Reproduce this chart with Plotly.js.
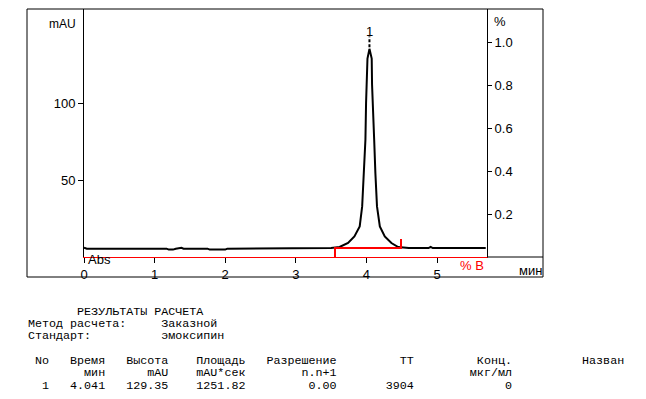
<!DOCTYPE html>
<html>
<head>
<meta charset="utf-8">
<script src="https://cdn.plot.ly/plotly-3.0.1.min.js"></script>
<style>html,body{margin:0;padding:0;background:#fff;}#chart{width:646px;height:399px;}</style>
</head>
<body>
<div id="chart"></div>
<script>
// ---- chromatogram data (min, mAU) ----
const time = [0, 0.04, 0.5, 1.0, 1.17, 1.2, 1.26, 1.3, 1.38, 1.41, 1.45, 1.75, 1.78, 2.0, 2.03, 2.4, 2.43, 3.0, 3.5,
  3.62, 3.74, 3.83, 3.905, 3.94, 3.966, 3.986, 3.995, 4.008, 4.015, 4.043, 4.075, 4.08, 4.094, 4.11, 4.127, 4.15, 4.19, 4.26, 4.354, 4.45,
  4.6, 4.88, 4.91, 4.94, 5.3, 5.69];
const signal = [6.1, 5.4, 5.4, 5.4, 5.4, 4.8, 4.8, 5.4, 6.0, 5.4, 5.4, 5.4, 4.8, 4.8, 5.4, 5.4, 5.8, 5.8, 5.8,
  6.5, 9.1, 13.4, 19.9, 32.9, 54.5, 76.2, 100, 115, 129, 135.3, 129, 112, 88, 76.2, 54.5, 32.9, 19.9, 13.4, 9.1, 6.5,
  5.8, 5.8, 6.6, 5.8, 5.8, 5.8];

// integration baseline marker
const integX = [3.555, 3.555, 4.49, 4.49];
const integY = [0, 5.8, 5.8, 11.7];

// axis ticks
const xTicks = [0, 1, 2, 3, 4, 5];
const yTicks = [50, 100];
const y2Ticks = [0.2, 0.4, 0.6, 0.8, 1.0];
const y2TickText = ["0.2", "0.4", "0.6", "0.8", "1.0"];

// results table
const peakNo = ["1"];
const retTime = ["4.041"];
const peakHeight = ["129.35"];
const peakArea = ["1251.82"];
const resolution = ["0.00"];
const theorPlates = ["3904"];
const concentration = ["0"];
const headers = ["No", "Время", "Высота", "Площадь", "Разрешение", "TT", "Конц.", "Назван"];
const units = ["", "мин", "mAU", "mAU*сек", "n.n+1", "", "мкг/мл"];
const colWidths = [3, 8, 9, 11, 13, 11, 14, 16];
const titleLines = ["       РЕЗУЛЬТАТЫ РАСЧЕТА", "Метод расчета:     Заказной", "Стандарт:          эмоксипин"];

function row(cells) {
  return cells.map((c, i) => String(c).padStart(colWidths[i])).join("").replace(/ /g, "\u00A0");
}

// pixel -> paper helpers (plot area 84..487 x, 9..257 y)
const L = 84, T = 9, W = 403, H = 248;
const px = x => (x - L) / W;
const py = y => (T + H - y) / H;

// peak apex from data
let iMax = 0;
signal.forEach((v, i) => { if (v > signal[iMax]) iMax = i; });
const apexT = time[iMax], apexV = signal[iMax];

const sansFont = {family: "Liberation Sans, Arial, sans-serif", size: 13, color: "#000"};
const monoFont = {family: "Liberation Mono, Courier New, monospace", size: 11.7, color: "#000"};

const traces = [
  {x: time, y: signal, type: "scatter", mode: "lines", line: {color: "#000", width: 2}, hoverinfo: "skip", showlegend: false},
  {x: integX, y: integY, type: "scatter", mode: "lines", line: {color: "#ff0000", width: 2}, hoverinfo: "skip", showlegend: false},
  {x: [], y: [], type: "scatter", mode: "lines", yaxis: "y2", showlegend: false}
];

const annotations = [
  {xref: "paper", yref: "paper", x: px(78), y: py(23.5), xanchor: "right", yanchor: "middle", text: "mAU", showarrow: false, font: {...sansFont, size: 12}},
  {xref: "paper", yref: "paper", x: px(492), y: py(21.7), xanchor: "left", yanchor: "middle", text: "%", showarrow: false, font: sansFont},
  {xref: "paper", yref: "paper", x: px(544), y: py(270.5), xanchor: "right", yanchor: "middle", text: "мин", showarrow: false, font: sansFont},
  {xref: "paper", yref: "paper", x: px(458), y: py(265), xanchor: "left", yanchor: "middle", text: "% B", showarrow: false, font: {...sansFont, color: "#ff0000"}},
  {xref: "paper", yref: "paper", x: px(86), y: py(259), xanchor: "left", yanchor: "middle", text: "Abs", showarrow: false, font: sansFont},
  {xref: "x", yref: "y", x: apexT, y: apexV + 11.5, xanchor: "center", yanchor: "middle", text: "1", showarrow: false, font: sansFont}
];

const tableY = [311.5, 324, 336];
titleLines.forEach((t, i) => annotations.push({xref: "paper", yref: "paper", x: px(26), y: py(tableY[i]), xanchor: "left", yanchor: "middle",
  text: t.replace(/ /g, "\u00A0"), showarrow: false, font: monoFont}));
const rows = [row(headers), row(units)];
peakNo.forEach((n, i) => rows.push(row([n, retTime[i], peakHeight[i], peakArea[i], resolution[i], theorPlates[i], concentration[i]])));
const rowY = [361, 373, 386];
rows.forEach((r, i) => annotations.push({xref: "paper", yref: "paper", x: px(26), y: py(rowY[i]), xanchor: "left", yanchor: "middle",
  text: r, showarrow: false, font: monoFont}));

const shapes = [
  {type: "rect", xref: "paper", yref: "paper", x0: px(27), x1: px(543), y0: py(277), y1: py(9), line: {color: "#000", width: 1}},
  {type: "line", xref: "paper", yref: "paper", x0: 1, x1: px(543), y0: 0, y1: 0, line: {color: "#000", width: 1}},
  {type: "line", xref: "x", yref: "y", x0: apexT, x1: apexT, y0: apexV + 1, y1: apexV + 8, line: {color: "#000", width: 2, dash: "3px,2px"}}
];

const layout = {
  width: 646, height: 399,
  margin: {l: L, r: 646 - L - W, t: T, b: 399 - T - H, pad: 0},
  paper_bgcolor: "#fff", plot_bgcolor: "#fff",
  showlegend: false,
  font: sansFont,
  xaxis: {range: [0, 5.708], tickvals: xTicks, ticktext: xTicks.map(String), showgrid: false, zeroline: false,
    showline: true, linecolor: "#ff0000", linewidth: 1, ticks: "outside", ticklen: 5, tickcolor: "#000", tickwidth: 1,
    tickfont: sansFont, fixedrange: true},
  yaxis: {range: [0, 161.2], tickvals: yTicks, ticktext: yTicks.map(String), showgrid: false, zeroline: false,
    showline: true, linecolor: "#000", linewidth: 1, ticks: "outside", ticklen: 5, tickcolor: "#000",
    tickfont: sansFont, fixedrange: true},
  yaxis2: {range: [0, 1.1535], overlaying: "y", side: "right", anchor: "x", tickvals: y2Ticks, ticktext: y2TickText,
    showgrid: false, zeroline: false, showline: true, linecolor: "#000", linewidth: 1, ticks: "outside", ticklen: 4,
    tickcolor: "#000", tickfont: sansFont, fixedrange: true},
  annotations: annotations,
  shapes: shapes
};

Plotly.newPlot("chart", traces, layout, {staticPlot: true, displayModeBar: false});
</script>
</body>
</html>
